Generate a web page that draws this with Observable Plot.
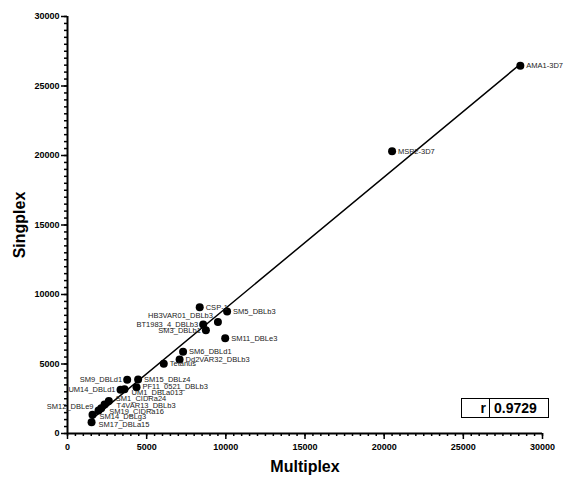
<!DOCTYPE html>
<html>
<head>
<meta charset="utf-8">
<script src="https://cdn.jsdelivr.net/npm/d3@7"></script>
<script src="https://cdn.jsdelivr.net/npm/@observablehq/plot@0.6"></script>
<style>
  body { margin: 0; background: #fff; font-family: "Liberation Sans", Arial, sans-serif; }
  #wrap { position: relative; width: 567px; height: 479px; }
  #wrap svg g[aria-label="x-axis label"] text,
  #wrap svg g[aria-label="y-axis label"] text { font-size: 16px; font-weight: bold; fill: #000; }
  #rbox { position: absolute; left: 461px; top: 398px; width: 88px; height: 20px;
          border: 1px solid #000; display: flex; box-sizing: border-box; background: #fff; }
  #rbox .k { width: 28px; border-right: 1px solid #000; text-align: right; padding-right: 3px;
             font-weight: bold; font-size: 14px; line-height: 18px; box-sizing: border-box; }
  #rbox .v { flex: 1; font-weight: bold; font-size: 14px; line-height: 18px; padding-left: 4px; }
</style>
</head>
<body>
<div id="wrap"></div>
<script>
const names = ["AMA1-3D7","MSP2-3D7","CSP-1","SM5_DBLb3","HB3VAR01_DBLb3","BT1983_4_DBLb3","SM3_DBLb1","SM11_DBLe3","SM6_DBLd1","Dd2VAR32_DBLb3","Tetanus","SM15_DBLz4","SM9_DBLd1","PF11_0521_DBLb3","UM1_DBLa013","UM14_DBLd1","SM1_CIDRa24","T4VAR13_DBLb3","SM19_CIDRa16","SM12_DBLe9","SM14_DBLg3","SM17_DBLa15"];
const multiplex = [28600,20500,8350,10080,9500,8570,8740,9960,7300,7080,6080,4460,3770,4360,3600,3350,2610,2340,2130,1960,1580,1520];
const singplex  = [26450,20300,9080,8780,8030,7840,7420,6860,5880,5320,5010,3890,3860,3330,3190,3140,2330,2090,1820,1660,1340,810];
const leftLabeled = ["HB3VAR01_DBLb3","BT1983_4_DBLb3","SM3_DBLb1","SM9_DBLd1","UM14_DBLd1","SM12_DBLe9"];
const majorTicks = [0,5000,10000,15000,20000,25000,30000];
const rValue = "0.9729";

// label nudges (pixels) to separate crowded labels as in the reference
const labelNudge = {
  "HB3VAR01_DBLb3": [0, -6], "UM1_DBLa013": [1, 3], "PF11_0521_DBLb3": [0, -1],
  "SM1_CIDRa24": [1, -3], "T4VAR13_DBLb3": [6, 1], "SM19_CIDRa16": [2, 3],
  "SM12_DBLe9": [0, -4], "SM14_DBLg3": [1, 2], "SM17_DBLa15": [1, 2], "CSP-1": [0, 0]
};

const data = names.map((n,i) => ({name:n, x:multiplex[i], y:singplex[i],
  ndx: (labelNudge[n] || [0,0])[0], ndy: (labelNudge[n] || [0,0])[1]}));
const minorTicks = d3.range(0, 30001, 500);

const labelMarks = data.map(d => Plot.text([d], {x: "x", y: "y", text: "name",
  textAnchor: leftLabeled.includes(d.name) ? "end" : "start",
  dx: (leftLabeled.includes(d.name) ? -5 : 6) + d.ndx, dy: d.ndy,
  fontSize: 7.5, fontWeight: "normal", fill: "#222"}));

const chart = Plot.plot({
  width: 567, height: 479,
  marginLeft: 67, marginRight: 25, marginTop: 16, marginBottom: 46,
  style: {fontFamily: '"Liberation Sans", Arial, sans-serif', fontSize: "9px", fontWeight: "bold", color: "#000", background: "#fff"},
  x: {domain: [0, 30000]},
  y: {domain: [0, 30000]},
  marks: [
    Plot.axisX(minorTicks, {tickSize: 3, tickFormat: () => "", strokeWidth: 1.5, label: null}),
    Plot.axisX(majorTicks, {tickSize: 6, tickPadding: 4, tickFormat: d => String(d), strokeWidth: 1.5,
      label: "Multiplex", labelAnchor: "center", labelArrow: "none", labelOffset: 38}),
    Plot.axisY(minorTicks, {tickSize: 3, tickFormat: () => "", strokeWidth: 1.5, label: null}),
    Plot.axisY(majorTicks, {tickSize: 6, tickPadding: 2, tickFormat: d => String(d), strokeWidth: 1.5,
      label: "Singplex", labelAnchor: "center", labelArrow: "none", labelOffset: 54}),
    Plot.ruleX([0], {strokeWidth: 2}),
    Plot.ruleY([0], {strokeWidth: 2}),
    Plot.linearRegressionY(data, {x: "x", y: "y", ci: 0, stroke: "#000", strokeWidth: 1.5}),
    Plot.dot(data, {x: "x", y: "y", r: 4, fill: "#000", stroke: "none"}),
    ...labelMarks
  ]
});
const wrap = document.getElementById("wrap");
wrap.appendChild(chart);
const box = document.createElement("div");
box.id = "rbox";
box.innerHTML = `<div class="k">r</div><div class="v">${rValue}</div>`;
wrap.appendChild(box);
</script>
</body>
</html>
